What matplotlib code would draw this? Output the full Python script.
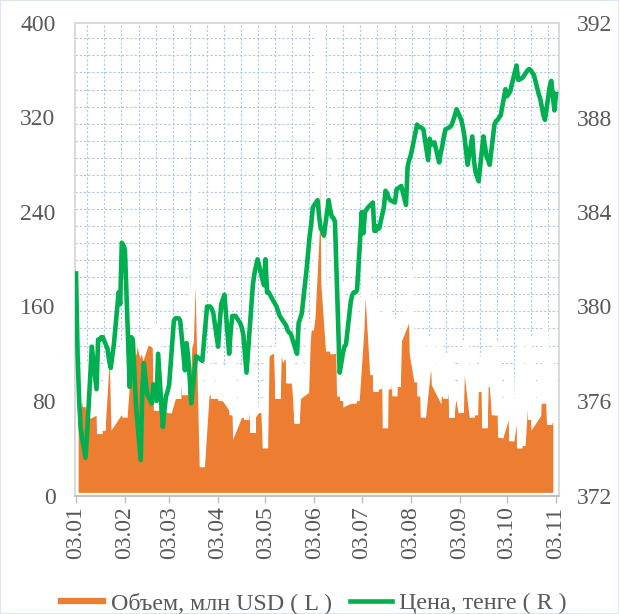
import datetime as dt
import numpy as np
import matplotlib
matplotlib.use("Agg")
import matplotlib.pyplot as plt
import matplotlib.dates as mdates
from matplotlib.lines import Line2D

# ---------------- data ----------------
trade_dates = [
    "01-03","01-04","01-05","01-06","01-09","01-10","01-11","01-12","01-13","01-16","01-17","01-18","01-19","01-20","01-23","01-24","01-25","01-26","01-27","01-30","01-31",
    "02-01","02-02","02-03","02-06","02-07","02-08","02-09","02-10","02-13","02-14","02-15","02-16","02-17","02-20","02-21","02-22","02-23","02-24","02-27","02-28",
    "03-01","03-02","03-03","03-06","03-07","03-09","03-10","03-13","03-14","03-15","03-16","03-17","03-20","03-24","03-27","03-28","03-29","03-30","03-31",
    "04-03","04-04","04-05","04-06","04-07","04-10","04-11","04-12","04-13","04-14","04-17","04-18","04-19","04-20","04-21","04-24","04-25","04-26","04-27","04-28",
    "05-02","05-03","05-04","05-05","05-10","05-11","05-12","05-15","05-16","05-17","05-18","05-19","05-22","05-23","05-24","05-25","05-26","05-29","05-30","05-31",
    "06-01","06-02","06-05","06-06","06-07","06-08","06-09","06-12","06-13","06-14","06-15","06-16","06-19","06-20","06-21","06-22","06-23","06-26","06-27","06-28","06-29","06-30",
    "07-03","07-04","07-05","07-07","07-10","07-11","07-12","07-13","07-14","07-17","07-18","07-19","07-20","07-21","07-24","07-25","07-26","07-27","07-28","07-31",
    "08-01","08-02","08-03","08-04","08-07","08-08","08-09","08-10","08-11","08-14","08-15","08-16","08-17","08-18","08-21","08-22","08-23","08-24","08-25","08-28","08-29","08-31",
    "09-01","09-04","09-05","09-06","09-07","09-08","09-11","09-12","09-13","09-14","09-15","09-18","09-19","09-20","09-21","09-22","09-25","09-26","09-27","09-28","09-29",
    "10-02","10-03","10-04","10-05","10-06","10-09","10-10","10-11","10-12","10-13","10-16","10-17","10-18","10-19","10-20","10-23","10-24","10-26","10-27","10-30","10-31",
    "11-01","11-02","11-03",
]

volume_musd = [
    75,110,74,105,75,112,72,100,68,70,108,52,95,55,120,118,122,119,62,68,115,
    68,130,66,122,125,118,121,140,124,128,122,126,130,128,135,145,72,130,72,110,
    72,125,70,84,130,82,135,85,120,90,125,130,260,24,86,120,85,110,84,
    84,115,80,110,82,76,118,68,112,58,68,110,66,115,64,112,53,105,70,72,
    72,40,122,120,124,82,140,118,120,135,95,130,85,61,86,125,85,88,130,146,
    140,150,230,400,600,400,180,122,175,124,120,300,84,180,80,165,78,80,170,78,175,80,
    140,175,195,170,102,170,88,165,90,150,57,160,90,155,84,150,92,140,135,145,
    150,175,190,120,96,140,84,130,66,104,135,105,130,94,86,128,84,120,82,125,66,92,
    92,70,125,102,130,100,66,115,68,110,88,120,57,105,92,125,68,130,68,115,49,
    62,105,63,110,46,76,120,40,130,42,102,135,64,125,62,68,110,78,155,60,120,
    62,110,63,
]

price_kzt = [
    381.4,378.0,376.0,374.8,373.6,374.6,375.8,377.0,378.3,376.5,378.6,378.6,378.7,378.7,378.2,377.7,377.4,377.9,378.4,380.6,380.1,
    382.7,382.6,382.4,376.6,378.7,378.6,377.2,375.8,373.5,376.5,377.6,376.9,376.3,375.9,376.7,376.4,376.0,378.0,374.9,375.6,
    376.2,376.4,376.7,379.4,379.5,379.5,379.4,377.3,378.45,377.9,377.0,375.9,377.9,377.7,380.0,380.0,380.0,379.9,379.7,
    378.3,379.3,380.1,380.3,380.5,378.0,379.0,379.6,379.6,379.6,379.3,379.1,378.8,378.0,377.2,380.0,380.9,381.4,381.7,382.0,
    380.9,382.0,380.6,380.6,380.0,379.8,379.6,379.3,379.2,379.0,378.9,378.85,378.2,378.0,379.3,379.5,379.7,381.55,382.3,383.0,
    383.5,384.2,384.5,383.8,383.3,383.2,383.0,384.5,384.1,383.8,383.75,383.6,377.2,377.6,378.0,378.3,378.4,380.2,380.5,380.6,380.6,380.7,
    384.0,383.1,384.0,384.2,384.4,383.2,383.2,383.4,383.3,384.2,384.9,384.8,384.6,384.5,384.4,384.95,385.0,385.05,385.1,384.3,
    385.9,386.2,386.4,386.7,387.7,387.6,387.6,387.55,387.5,386.2,387.1,386.85,386.9,386.95,386.1,386.5,386.8,387.2,387.5,387.6,387.7,388.1,
    388.35,387.9,387.6,387.2,386.6,386.0,387.2,386.2,385.7,385.5,385.3,387.2,386.8,386.35,386.2,386.0,387.7,387.85,387.9,388.0,388.1,
    389.2,388.9,389.0,389.1,389.4,390.2,389.6,389.6,389.65,389.7,390.0,390.05,390.0,389.9,389.8,389.0,388.8,388.1,387.9,389.3,389.55,
    388.9,388.3,389.0,
]

tick_dates = ["01-03","02-03","03-03","04-03","05-03","06-03","07-03","08-03","09-03","10-03","11-03"]
tick_labels = ["03.01","03.02","03.03","03.04","03.05","03.06","03.07","03.08","03.09","03.10","03.11"]
left_ticks = [0, 80, 160, 240, 320, 400]
right_ticks = [372, 376, 380, 384, 388, 392]
legend_labels = ["Объем, млн USD ( L )", "Цена, тенге ( R )"]

YEAR = 2023
def to_num(s):
    m, d = s.split("-")
    return mdates.date2num(dt.datetime(YEAR, int(m), int(d)))

x = np.array([to_num(s) for s in trade_dates])
xt = [to_num(s) for s in tick_dates]

# ---------------- style ----------------
ORANGE = "#ED7D31"
GREEN = "#00B050"
TXT = "#595959"
GRID = "#A9C8EA"
plt.rcParams["font.family"] = ["Liberation Serif", "DejaVu Serif"]

W, H = 619, 614
fig = plt.figure(figsize=(W / 100, H / 100), dpi=100)
L, R, T, B = 75, 559, 23, 495.5
ax = fig.add_axes([L / W, 1 - B / H, (R - L) / W, (B - T) / H])
ax2 = ax.twinx()

# patterned dotted grid (plot-area texture)
for px in np.arange(87.3, R, 17.07):
    f = (px - L) / (R - L)
    ax.plot([f, f], [0, 1], transform=ax.transAxes, color=GRID, lw=0.8,
            ls=(0, (2.0, 1.8)), zorder=0.5)
for py in np.arange(38.3, B - 2, 17.07):
    f = 1 - (py - T) / (B - T)
    ax.plot([0, 1], [f, f], transform=ax.transAxes, color=GRID, lw=0.8,
            ls=(0, (2.0, 1.8)), zorder=0.5)

ax.fill_between(x, volume_musd, 0, facecolor=ORANGE, edgecolor="white",
                linewidth=3.8, joinstyle="miter", zorder=2)
ax2.plot(x, price_kzt, color=GREEN, lw=3.3, solid_joinstyle="round", zorder=3)

x0 = x[0] - 0.63
x1 = x[-1] + 1.9
ax.set_xlim(x0, x1)
ax.set_ylim(0, 400)
ax2.set_ylim(372, 392)

ax.set_yticks(left_ticks)
ax.set_yticklabels([str(v) for v in left_ticks])
ax2.set_yticks(right_ticks)
ax2.set_yticklabels([str(v) for v in right_ticks])
ax.set_xticks(xt)
ax.set_xticklabels(tick_labels, rotation=90)

ax.tick_params(axis="y", length=0, pad=14, labelsize=17, labelcolor=TXT)
ax2.tick_params(axis="y", length=0, pad=13, labelsize=17, labelcolor=TXT)
ax.tick_params(axis="x", length=5, width=1, color="#BFBFBF", pad=3,
               labelsize=17, labelcolor=TXT)
ax2.tick_params(axis="x", length=0)

for a in (ax, ax2):
    for side in ("left", "top", "right"):
        a.spines[side].set_color("#D9D9D9")
        a.spines[side].set_linewidth(1.2)
    a.spines["bottom"].set_color("#BFBFBF")
    a.spines["bottom"].set_linewidth(1.2)

handles = [Line2D([0], [0], color=ORANGE, lw=4.5),
           Line2D([0], [0], color=GREEN, lw=3.3)]
fig.legend(handles, legend_labels, loc="center", bbox_to_anchor=(0.507, 0.018),
           ncol=2, frameon=False, fontsize=17.3, handlelength=1.75,
           handletextpad=0.3, columnspacing=0.75, labelcolor=TXT,
           borderaxespad=0, borderpad=0)

fig.patches.append(plt.Rectangle((0, 0), 1, 1, transform=fig.transFigure,
                                 fill=False, edgecolor="#DCE6F2", lw=1.5))

fig.savefig("out.png", dpi=100, facecolor="white")
